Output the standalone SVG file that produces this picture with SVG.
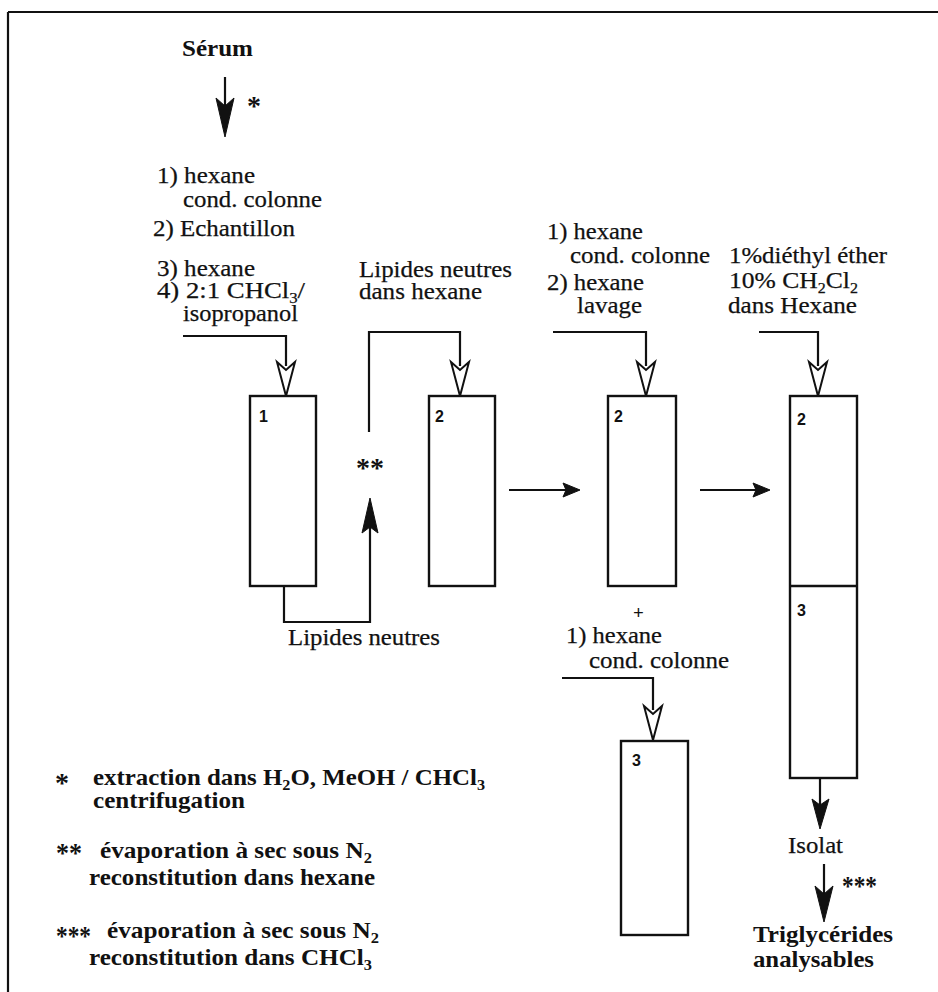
<svg xmlns="http://www.w3.org/2000/svg" width="938" height="992" viewBox="0 0 938 992">
<defs>
<style>
.t{font-family:"Liberation Serif","Times New Roman",serif;font-size:24px;fill:#111;stroke:#111;stroke-width:0.25}
.b{font-family:"Liberation Serif","Times New Roman",serif;font-size:23px;font-weight:bold;fill:#111}
.a{font-family:"Liberation Serif","Times New Roman",serif;font-size:28px;font-weight:bold;fill:#111}
.n{font-family:"Liberation Sans",Arial,sans-serif;font-size:16px;font-weight:bold;fill:#111}
.ln{fill:none;stroke:#111;stroke-width:2.2}
.box{fill:#fff;stroke:#111;stroke-width:2.4}
.ha{fill:#fff;stroke:#111;stroke-width:2;stroke-linejoin:miter}
.fa{fill:#111;stroke:#111;stroke-width:1}
.s{font-size:15px}
</style>
</defs>
<rect width="938" height="992" fill="#fff"/>
<g id="frame">
<path class="ln" d="M8,12 H938 M8,12 V992"/>
</g>

<g id="connectors">
<path class="ln" d="M225,77 V110"/>
<path class="fa" d="M225,137 L216,98 L225,106 L234,98 Z"/>
<path class="ln" d="M183,336 H286 V366"/>
<path class="ha" d="M277,362 L286,370 L295,362 L286,396 Z"/>
<path class="ln" d="M284,586 V622 H370 V525"/>
<path class="fa" d="M370,498 L362,533 L370,527 L378,533 Z"/>
<path class="ln" d="M369,432 V332 H460 V366"/>
<path class="ha" d="M451,362 L460,370 L469,362 L460,396 Z"/>
<path class="ln" d="M509,490 H568"/>
<path class="fa" d="M580,490 L563,483 L566,490 L563,497 Z"/>
<path class="ln" d="M700,490 H758"/>
<path class="fa" d="M770,490 L753,483 L756,490 L753,497 Z"/>
<path class="ln" d="M553,332 H646 V366"/>
<path class="ha" d="M637,362 L646,370 L655,362 L646,396 Z"/>
<path class="ln" d="M759,332 H818 V366"/>
<path class="ha" d="M809,362 L818,370 L827,362 L818,396 Z"/>
<path class="ln" d="M562,678 H653 V710"/>
<path class="ha" d="M644,706 L653,714 L662,706 L653,740 Z"/>
<path class="ln" d="M820,778 V805"/>
<path class="fa" d="M820,829 L812,799 L820,805 L829,799 Z"/>
<path class="ln" d="M824,864 V895"/>
<path class="fa" d="M824,922 L815,886 L824,894 L833,886 Z"/>
</g>

<g id="serum">
<text class="b" x="182" y="56" textLength="71" lengthAdjust="spacingAndGlyphs">Sérum</text>
<text class="a" x="247" y="115">*</text>
</g>

<g id="inputs1">
<text class="t" x="157" y="183" textLength="98" lengthAdjust="spacingAndGlyphs">1) hexane</text>
<text class="t" x="183" y="207" textLength="139" lengthAdjust="spacingAndGlyphs">cond. colonne</text>
<text class="t" x="153" y="236" textLength="142" lengthAdjust="spacingAndGlyphs">2) Echantillon</text>
<text class="t" x="157" y="276" textLength="98" lengthAdjust="spacingAndGlyphs">3) hexane</text>
<text class="t" x="157" y="298" textLength="148" lengthAdjust="spacingAndGlyphs">4) 2:1  CHCl<tspan class="s" dy="5">3</tspan><tspan dy="-5">/</tspan></text>
<text class="t" x="183" y="321" textLength="115" lengthAdjust="spacingAndGlyphs">isopropanol</text>
</g>

<g id="col1">
<rect class="box" x="250" y="396" width="66" height="190"/>
<text class="n" x="259" y="422">1</text>
</g>

<g id="evap">
<text class="a" x="356" y="477">**</text>
<text class="t" x="288" y="645" textLength="152" lengthAdjust="spacingAndGlyphs">Lipides neutres</text>
</g>

<g id="inputs2">
<text class="t" x="359" y="277" textLength="153" lengthAdjust="spacingAndGlyphs">Lipides neutres</text>
<text class="t" x="359" y="299" textLength="123" lengthAdjust="spacingAndGlyphs">dans hexane</text>
</g>

<g id="col2">
<rect class="box" x="429" y="396" width="66" height="190"/>
<text class="n" x="435" y="422">2</text>
</g>

<g id="inputs3">
<text class="t" x="547" y="239" textLength="96" lengthAdjust="spacingAndGlyphs">1) hexane</text>
<text class="t" x="570" y="263" textLength="140" lengthAdjust="spacingAndGlyphs">cond. colonne</text>
<text class="t" x="547" y="290" textLength="97" lengthAdjust="spacingAndGlyphs">2) hexane</text>
<text class="t" x="577" y="313" textLength="65" lengthAdjust="spacingAndGlyphs">lavage</text>
</g>

<g id="col2b">
<rect class="box" x="608" y="396" width="68" height="190"/>
<text class="n" x="614" y="422">2</text>
<text class="b" x="633" y="619" style="font-size:19px">+</text>
</g>

<g id="inputs4">
<text class="t" x="566" y="643" textLength="96" lengthAdjust="spacingAndGlyphs">1) hexane</text>
<text class="t" x="589" y="668" textLength="140" lengthAdjust="spacingAndGlyphs">cond. colonne</text>
</g>

<g id="col3">
<rect class="box" x="621" y="741" width="67" height="194"/>
<text class="n" x="632" y="766">3</text>
</g>

<g id="inputs5">
<text class="t" x="729" y="263" textLength="158" lengthAdjust="spacingAndGlyphs">1%diéthyl éther</text>
<text class="t" x="729" y="288" textLength="129" lengthAdjust="spacingAndGlyphs">10% CH<tspan class="s" dy="5">2</tspan><tspan dy="-5">Cl</tspan><tspan class="s" dy="5">2</tspan></text>
<text class="t" x="728" y="313" textLength="129" lengthAdjust="spacingAndGlyphs">dans Hexane</text>
</g>

<g id="col23">
<rect class="box" x="790" y="396" width="67" height="382"/>
<path class="ln" d="M790,586 H857" style="stroke-width:2.4"/>
<text class="n" x="797" y="425">2</text>
<text class="n" x="797" y="616">3</text>
</g>

<g id="isolat">
<text class="t" x="788" y="853" textLength="55" lengthAdjust="spacingAndGlyphs">Isolat</text>
<text class="a" x="842" y="895" textLength="35" lengthAdjust="spacingAndGlyphs">***</text>
</g>

<g id="result">
<text class="b" x="753" y="942" textLength="140" lengthAdjust="spacingAndGlyphs">Triglycérides</text>
<text class="b" x="753" y="967" textLength="121" lengthAdjust="spacingAndGlyphs">analysables</text>
</g>

<g id="legend">
<text class="a" x="55" y="792">*</text>
<text class="b" x="93" y="785" textLength="392" lengthAdjust="spacingAndGlyphs">extraction dans H<tspan class="s" dy="5">2</tspan><tspan dy="-5">O, MeOH / CHCl</tspan><tspan class="s" dy="5">3</tspan></text>
<text class="b" x="93" y="808" textLength="152" lengthAdjust="spacingAndGlyphs">centrifugation</text>
<text class="a" x="56" y="862" textLength="26" lengthAdjust="spacingAndGlyphs">**</text>
<text class="b" x="100" y="858" textLength="272" lengthAdjust="spacingAndGlyphs">évaporation à sec sous N<tspan class="s" dy="5">2</tspan></text>
<text class="b" x="89" y="885" textLength="286" lengthAdjust="spacingAndGlyphs">reconstitution dans hexane</text>
<text class="a" x="56" y="945" textLength="35" lengthAdjust="spacingAndGlyphs">***</text>
<text class="b" x="107" y="938" textLength="272" lengthAdjust="spacingAndGlyphs">évaporation à sec sous N<tspan class="s" dy="5">2</tspan></text>
<text class="b" x="89" y="965" textLength="283" lengthAdjust="spacingAndGlyphs">reconstitution dans CHCl<tspan class="s" dy="5">3</tspan></text>
</g>
</svg>
